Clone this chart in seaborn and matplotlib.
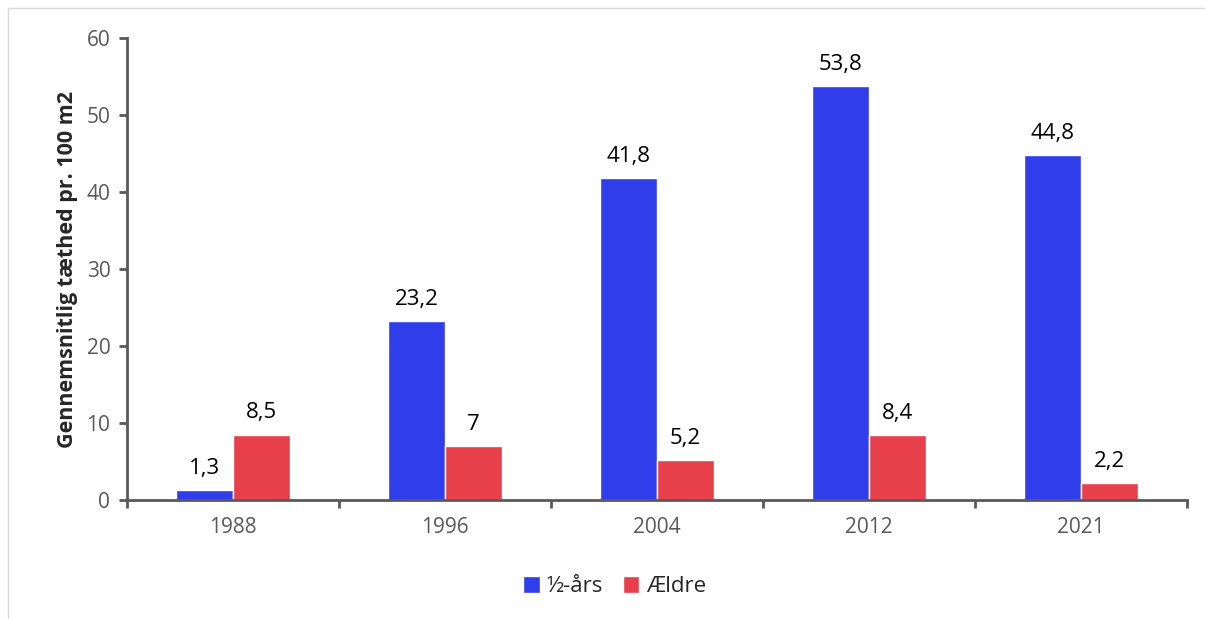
import pandas as pd
import matplotlib
matplotlib.use('Agg')
import matplotlib.pyplot as plt
import seaborn as sns
from matplotlib.patches import Rectangle

# Values
years = ['1988', '1996', '2004', '2012', '2021']
half_year = [1.3, 23.2, 41.8, 53.8, 44.8]
older = [8.5, 7.0, 5.2, 8.4, 2.2]
series_names = ['½-års', 'Ældre']
y_ticks = [0, 10, 20, 30, 40, 50, 60]

df = pd.DataFrame({
    'year': years * 2,
    'density': half_year + older,
    'group': [series_names[0]] * len(years) + [series_names[1]] * len(years),
})

sns.set_style('white')
plt.rcParams['font.family'] = ['Open Sans', 'DejaVu Sans']

fig = plt.figure(figsize=(12.05, 6.19), dpi=100)
ax = fig.add_axes([0.1054, 0.1922, 0.8797, 0.7464])

palette = {'½-års': '#2F3DEA', 'Ældre': '#E8404A'}
sns.barplot(data=df, x='year', y='density', hue='group', order=years,
            hue_order=series_names, palette=palette, width=0.54,
            saturation=1, ax=ax, legend=True)

# data labels, Danish decimal comma
for cont in ax.containers:
    labels = []
    for v in cont.datavalues:
        s = f'{v:.1f}'.rstrip('0').rstrip('.')
        labels.append(s.replace('.', ','))
    ax.bar_label(cont, labels=labels, padding=8, fontsize=16, color='black')

ax.set_xlim(-0.5, len(years) - 0.5)
ax.set_ylim(0, 60)
ax.set_yticks(y_ticks)
ax.set_xlabel('')
ax.set_ylabel('Gennemsnitlig tæthed pr. 100 m2', fontsize=15.5, fontweight='bold',
              labelpad=6)

# category boundary ticks on the x axis
ax.set_xticks([i - 0.5 for i in range(len(years) + 1)], minor=True)
ax.tick_params(axis='x', which='major', length=0, pad=12, labelsize=15,
               labelcolor='#595959')
ax.tick_params(axis='x', which='minor', length=6, width=2, color='#595959',
               direction='out', bottom=True)
ax.tick_params(axis='y', length=6, width=2, color='#595959', direction='out',
               left=True, labelsize=15, labelcolor='#595959', pad=6)

for side in ['top', 'right']:
    ax.spines[side].set_visible(False)
for side in ['left', 'bottom']:
    ax.spines[side].set_color('#595959')
    ax.spines[side].set_linewidth(2)

handles, labs = ax.get_legend_handles_labels()
ax.legend(handles, labs, loc='center', bbox_to_anchor=(0.46, -0.188),
          ncol=2, frameon=False, fontsize=16, handlelength=0.75,
          handleheight=0.75, handletextpad=0.3, columnspacing=0.9)

# light grey chart border
fig.patches.append(Rectangle((8 / 1205, -0.05), 1.1, 1 - 8 / 619 + 0.05,
                             transform=fig.transFigure, fill=False,
                             edgecolor='#D9D9D9', linewidth=1))

fig.savefig('out.png', dpi=100)
